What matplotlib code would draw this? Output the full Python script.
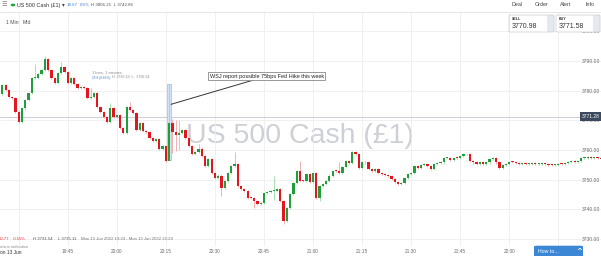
import matplotlib
matplotlib.use('Agg')
import matplotlib.pyplot as plt
from matplotlib.patches import Rectangle, FancyBboxPatch, Circle
from matplotlib.lines import Line2D
import matplotlib.transforms as mtransforms
import numpy as np

plt.rcParams['font.family'] = ['Liberation Sans', 'DejaVu Sans']

# ---------------- data ----------------
closes = [
    3779.0, 3781.9, 3780.2, 3777.8, 3777.6, 3772.7, 3769.3, 3774.0, 3776.8, 3779.2,
    3784.2, 3784.4, 3785.6, 3787.0, 3790.7, 3787.0, 3784.2, 3782.5, 3786.0, 3788.0,
    3786.3, 3782.5, 3784.2, 3782.2, 3780.8, 3781.2, 3780.8, 3777.5, 3777.8, 3779.2,
    3774.4, 3772.7, 3771.0, 3769.3, 3774.0, 3771.0, 3771.7, 3767.3, 3765.9, 3774.4,
    3773.4, 3772.4, 3766.6, 3769.0, 3766.3, 3766.0, 3763.9, 3762.9, 3763.6, 3760.5,
    3761.5, 3756.4, 3769.0, 3766.0, 3765.0, 3765.6, 3766.6, 3763.9, 3761.5,
    3758.8, 3759.2, 3760.5, 3758.1, 3754.7, 3757.1, 3752.4, 3750.7, 3751.4, 3747.3,
    3749.7, 3752.4, 3754.7, 3755.4, 3748.0, 3747.0, 3746.3, 3743.9, 3743.7, 3742.9,
    3741.9, 3742.2, 3745.6, 3745.9, 3746.2, 3746.3, 3747.0, 3742.9, 3736.1, 3740.5,
    3745.3, 3749.0, 3753.0, 3749.7, 3749.5, 3752.0, 3749.3, 3752.4, 3743.9, 3748.0,
    3748.6, 3749.7, 3751.4, 3753.0, 3752.8, 3752.2, 3754.4, 3756.4, 3755.7, 3759.2,
    3758.8, 3754.1, 3755.8, 3756.1, 3753.7, 3753.0, 3753.7,
    3752.4, 3752.0, 3751.7, 3751.3, 3750.3, 3749.3, 3748.6, 3749.0, 3750.7, 3752.0,
    3752.2, 3754.7, 3754.1, 3755.1, 3755.4, 3754.7, 3753.7, 3755.4, 3755.6, 3755.8,
    3757.4, 3757.4, 3756.8, 3757.4, 3757.2, 3758.1, 3758.8, 3758.5, 3756.4, 3755.8,
    3755.4, 3756.1, 3755.4, 3755.8, 3757.1, 3757.2, 3755.8, 3754.1, 3755.1, 3755.4,
    3756.1, 3755.9, 3755.6, 3755.3, 3755.5, 3755.2,
    3755.3, 3755.5, 3755.2, 3755.4, 3755.6, 3755.3, 3755.0, 3754.9, 3755.1, 3755.3,
    3755.2, 3755.5, 3755.9, 3756.2, 3756.1, 3756.4, 3757.3, 3757.4, 3757.5, 3757.2,
    3757.4, 3757.3, 3757.1, 3757.5, 3757.6,
]
first_open = 3778.0
high_override = {11: 3789.0, 14: 3791.54, 19: 3789.6, 28: 3781.0, 34: 3776.0,
                 40: 3776.3, 52: 3782.29, 53: 3770.5, 54: 3770.0, 55: 3770.2,
                 61: 3762.0, 72: 3759.2, 84: 3751.3, 92: 3756.4, 104: 3755.8}
low_override = {52: 3756.54, 53: 3759.0, 54: 3759.5, 55: 3760.0, 68: 3744.6,
                78: 3740.5, 84: 3743.0, 87: 3735.11, 98: 3742.9}

tick_minutes = [6, 21, 36, 51, 66, 81, 96, 111, 126, 141, 156, 171]
tick_labels = ["", "19:45", "20:00", "20:15", "20:30", "20:45", "21:00",
               "21:15", "21:30", "21:45", "22:00", ""]
price_ticks = [3730, 3740, 3750, 3760, 3770, 3780, 3790, 3800]
current_price = 3771.28
hl_index = 52
note_text = "WSJ report possible 75bps Fed Hike this week"

# ---------------- figure ----------------
W, H = 601, 256
fig = plt.figure(figsize=(W / 100, H / 100), dpi=100)
fig.patch.set_facecolor('white')


def fx(px):
    return px / W


def fy(py):
    return 1 - py / H


ax_top, ax_bot = 12, 246
ax = fig.add_axes([0, fy(ax_bot), 1, (ax_bot - ax_top) / H])
ax.set_facecolor('white')
ax.set_xlim(0.9 / 3.27, 601.9 / 3.27)
ax.set_ylim(3790 - (ax_bot - 61) / 2.967, 3790 + (61 - ax_top) / 2.967)
for s in ax.spines.values():
    s.set_visible(False)

ax.set_xticks(tick_minutes)
ax.set_xticklabels(tick_labels)
ax.tick_params(axis='x', length=0, pad=2.2, labelsize=3.4, labelcolor='#6a6a6a')
ax.yaxis.tick_right()
ax.set_yticks(price_ticks)
ax.set_yticklabels([f"{p:.2f}" for p in price_ticks])
ax.tick_params(axis='y', length=0, pad=-13.7, labelsize=3.6, labelcolor='#6a6a6a')
ax.grid(True, color='#eeeeee', lw=0.6, zorder=0)
ax.set_axisbelow(True)

# watermark
ax.text(fx(186), fy(143.3), "US 500 Cash (£1)", transform=fig.transFigure,
        fontsize=20.5, color='#cdd0d6', ha='left', va='baseline', zorder=0.5)

# current price line
ax.axhline(current_price, color='#c9cdd8', lw=0.7, zorder=1)

# candles
n = len(closes)
idx = np.arange(n)
opens = np.array([first_open] + closes[:-1])
cl = np.array(closes)
up = cl >= opens
highs = np.array([high_override.get(i, max(opens[i], cl[i]) + 0.35) for i in range(n)])
lows = np.array([low_override.get(i, min(opens[i], cl[i]) - 0.35) for i in range(n)])
green, red = '#1f9e3a', '#e3161e'
lgreen, lred = '#9fd8a6', '#f3a3a6'
body_col = [green if u else red for u in up]
wick_col = [lgreen if u else lred for u in up]

# highlight of hovered bar
ax.add_patch(Rectangle((hl_index - 0.72, low_override[hl_index]), 1.44,
                       high_override[hl_index] - low_override[hl_index],
                       fc='#d3e3f6', ec='#a9c5ea', lw=0.6, zorder=1.5))

ax.vlines(idx, lows, highs, colors=wick_col, lw=0.6, zorder=2)
bottoms = np.minimum(opens, cl)
heights = np.maximum(np.abs(cl - opens), 0.3)
ax.bar(idx, heights, bottom=bottoms, width=0.68, color=body_col, lw=0, zorder=3)

# annotation
ax.annotate(note_text, xy=(52.57, 3775.4), xytext=(64.4, 3784.9),
            fontsize=4.0, color='#222222', ha='left', va='center',
            bbox=dict(boxstyle='square,pad=0.25', fc='white', ec='#888888', lw=0.6),
            arrowprops=dict(arrowstyle='-', color='#333333', lw=0.7,
                            shrinkA=0, shrinkB=0), zorder=5)

# current price tag
trans = mtransforms.blended_transform_factory(ax.transAxes, ax.transData)
ax.text(fx(599.5), current_price, f"{current_price:.2f}", transform=trans,
        ha='right', va='center', fontsize=3.6, color='white', zorder=6,
        bbox=dict(boxstyle='square,pad=0.35', fc='#3d495e', ec='none'))

# tooltip
fig.text(fx(92), fy(72.3), "1 bars, 1 minutes", fontsize=2.8, color='#8a8a8a', va='center')
fig.text(fx(92), fy(77.5), "25.8 (0.69%)", fontsize=2.3, color='#3b7dd8', va='center')
fig.text(fx(112.5), fy(77.5), "H: 3782.29  L : 3756.54", fontsize=2.6, color='#8a8a8a', va='center')

# ---------------- header ----------------
fig.add_artist(Line2D([0, 1], [fy(12), fy(12)], color='#e2e2e2', lw=0.6))
fig.text(fx(2), fy(5), "☰", fontsize=4.5, color='#777777', va='center', family=['DejaVu Sans'])
fig.add_artist(Circle((fx(13), fy(5)), 1.6 / W, transform=fig.transFigure, color='#22a846'))
fig.text(fx(17), fy(5), "US 500 Cash (£1)", fontsize=3.9, color='#333333', va='center')
fig.text(fx(62), fy(5), "▾", fontsize=4.0, color='#444444', va='center', family=['DejaVu Sans'])
fig.text(fx(67), fy(5), "18.67", fontsize=3.2, color='#3b7dd8', va='center')
fig.text(fx(79.5), fy(5), "0.5%", fontsize=3.2, color='#3b7dd8', va='center')
fig.text(fx(91), fy(5), "H 3806.21  L 3742.86", fontsize=3.2, color='#555555', va='center')
fig.text(fx(6), fy(23), "1 Min", fontsize=3.7, color='#555555', va='center')
fig.text(fx(23), fy(23), "Mid", fontsize=3.7, color='#555555', va='center')
for xp, lab in [(512, "Deal"), (535, "Order"), (560, "Alert"), (585, "Info")]:
    fig.text(fx(xp), fy(5), lab, fontsize=3.9, color='#444444', va='center')

# sell / buy boxes
for x0, x1, lab, val in [(509, 554, "SELL", "3770.98"), (556, 600, "BUY", "3771.58")]:
    fig.add_artist(Rectangle((fx(x1 - 7), fy(32)), 7 / W, 17 / H, transform=fig.transFigure,
                             fc='#e3e9ef', ec='none', zorder=9))
    fig.add_artist(FancyBboxPatch((fx(x0), fy(32)), (x1 - x0) / W, 17 / H,
                                  boxstyle='round,pad=0,rounding_size=0.003',
                                  transform=fig.transFigure, fc='none', ec='#cfd3d8',
                                  lw=0.6, zorder=10))
    fig.add_artist(Rectangle((fx(x0 + 0.5), fy(31.5)), (x1 - x0 - 7.5) / W, 16 / H,
                             transform=fig.transFigure, fc='white', ec='none', zorder=9))
    fig.text(fx(x0 + 3), fy(19), lab, fontsize=2.6, color='#333333', va='center',
             weight='bold', zorder=11)
    fig.text(fx(x0 + 3), fy(26.5), val, fontsize=5.0, color='#333333', va='center', zorder=11)

# ---------------- bottom ----------------
fig.text(fx(-1), fy(239.3), "20.77", fontsize=3.1, color='#e0383c', va='center')
fig.text(fx(13), fy(239.3), "-0.55%", fontsize=3.1, color='#e0383c', va='center')
fig.text(fx(33), fy(239.3), "H 3791.54", fontsize=3.1, color='#555555', va='center')
fig.text(fx(58), fy(239.3), "L 3735.11", fontsize=3.1, color='#555555', va='center')
fig.text(fx(81), fy(239.3), "Mon 13 Jun 2022 19:24 - Mon 13 Jun 2022 22:29", fontsize=3.1,
         color='#777777', va='center')
fig.text(fx(-3), fy(247), "Data is indicative", fontsize=3.0, color='#888888', va='center')
fig.text(fx(-3.5), fy(252.7), "Mon 13 Jun", fontsize=3.5, color='#333333', va='center')

# how to button
fig.add_artist(FancyBboxPatch((fx(534), fy(258)), 49 / W, 12.3 / H,
                              boxstyle='round,pad=0,rounding_size=0.004',
                              transform=fig.transFigure, fc='#3b87d6', ec='none', zorder=10))
fig.text(fx(538), fy(251.5), "How to...", fontsize=3.8, color='white', va='center', zorder=11)
fig.text(fx(576), fy(251.0), "^", fontsize=5, color='white', va='center', weight='bold',
         zorder=11, family=['DejaVu Sans'])

fig.savefig('out.png', dpi=100, facecolor='white')
